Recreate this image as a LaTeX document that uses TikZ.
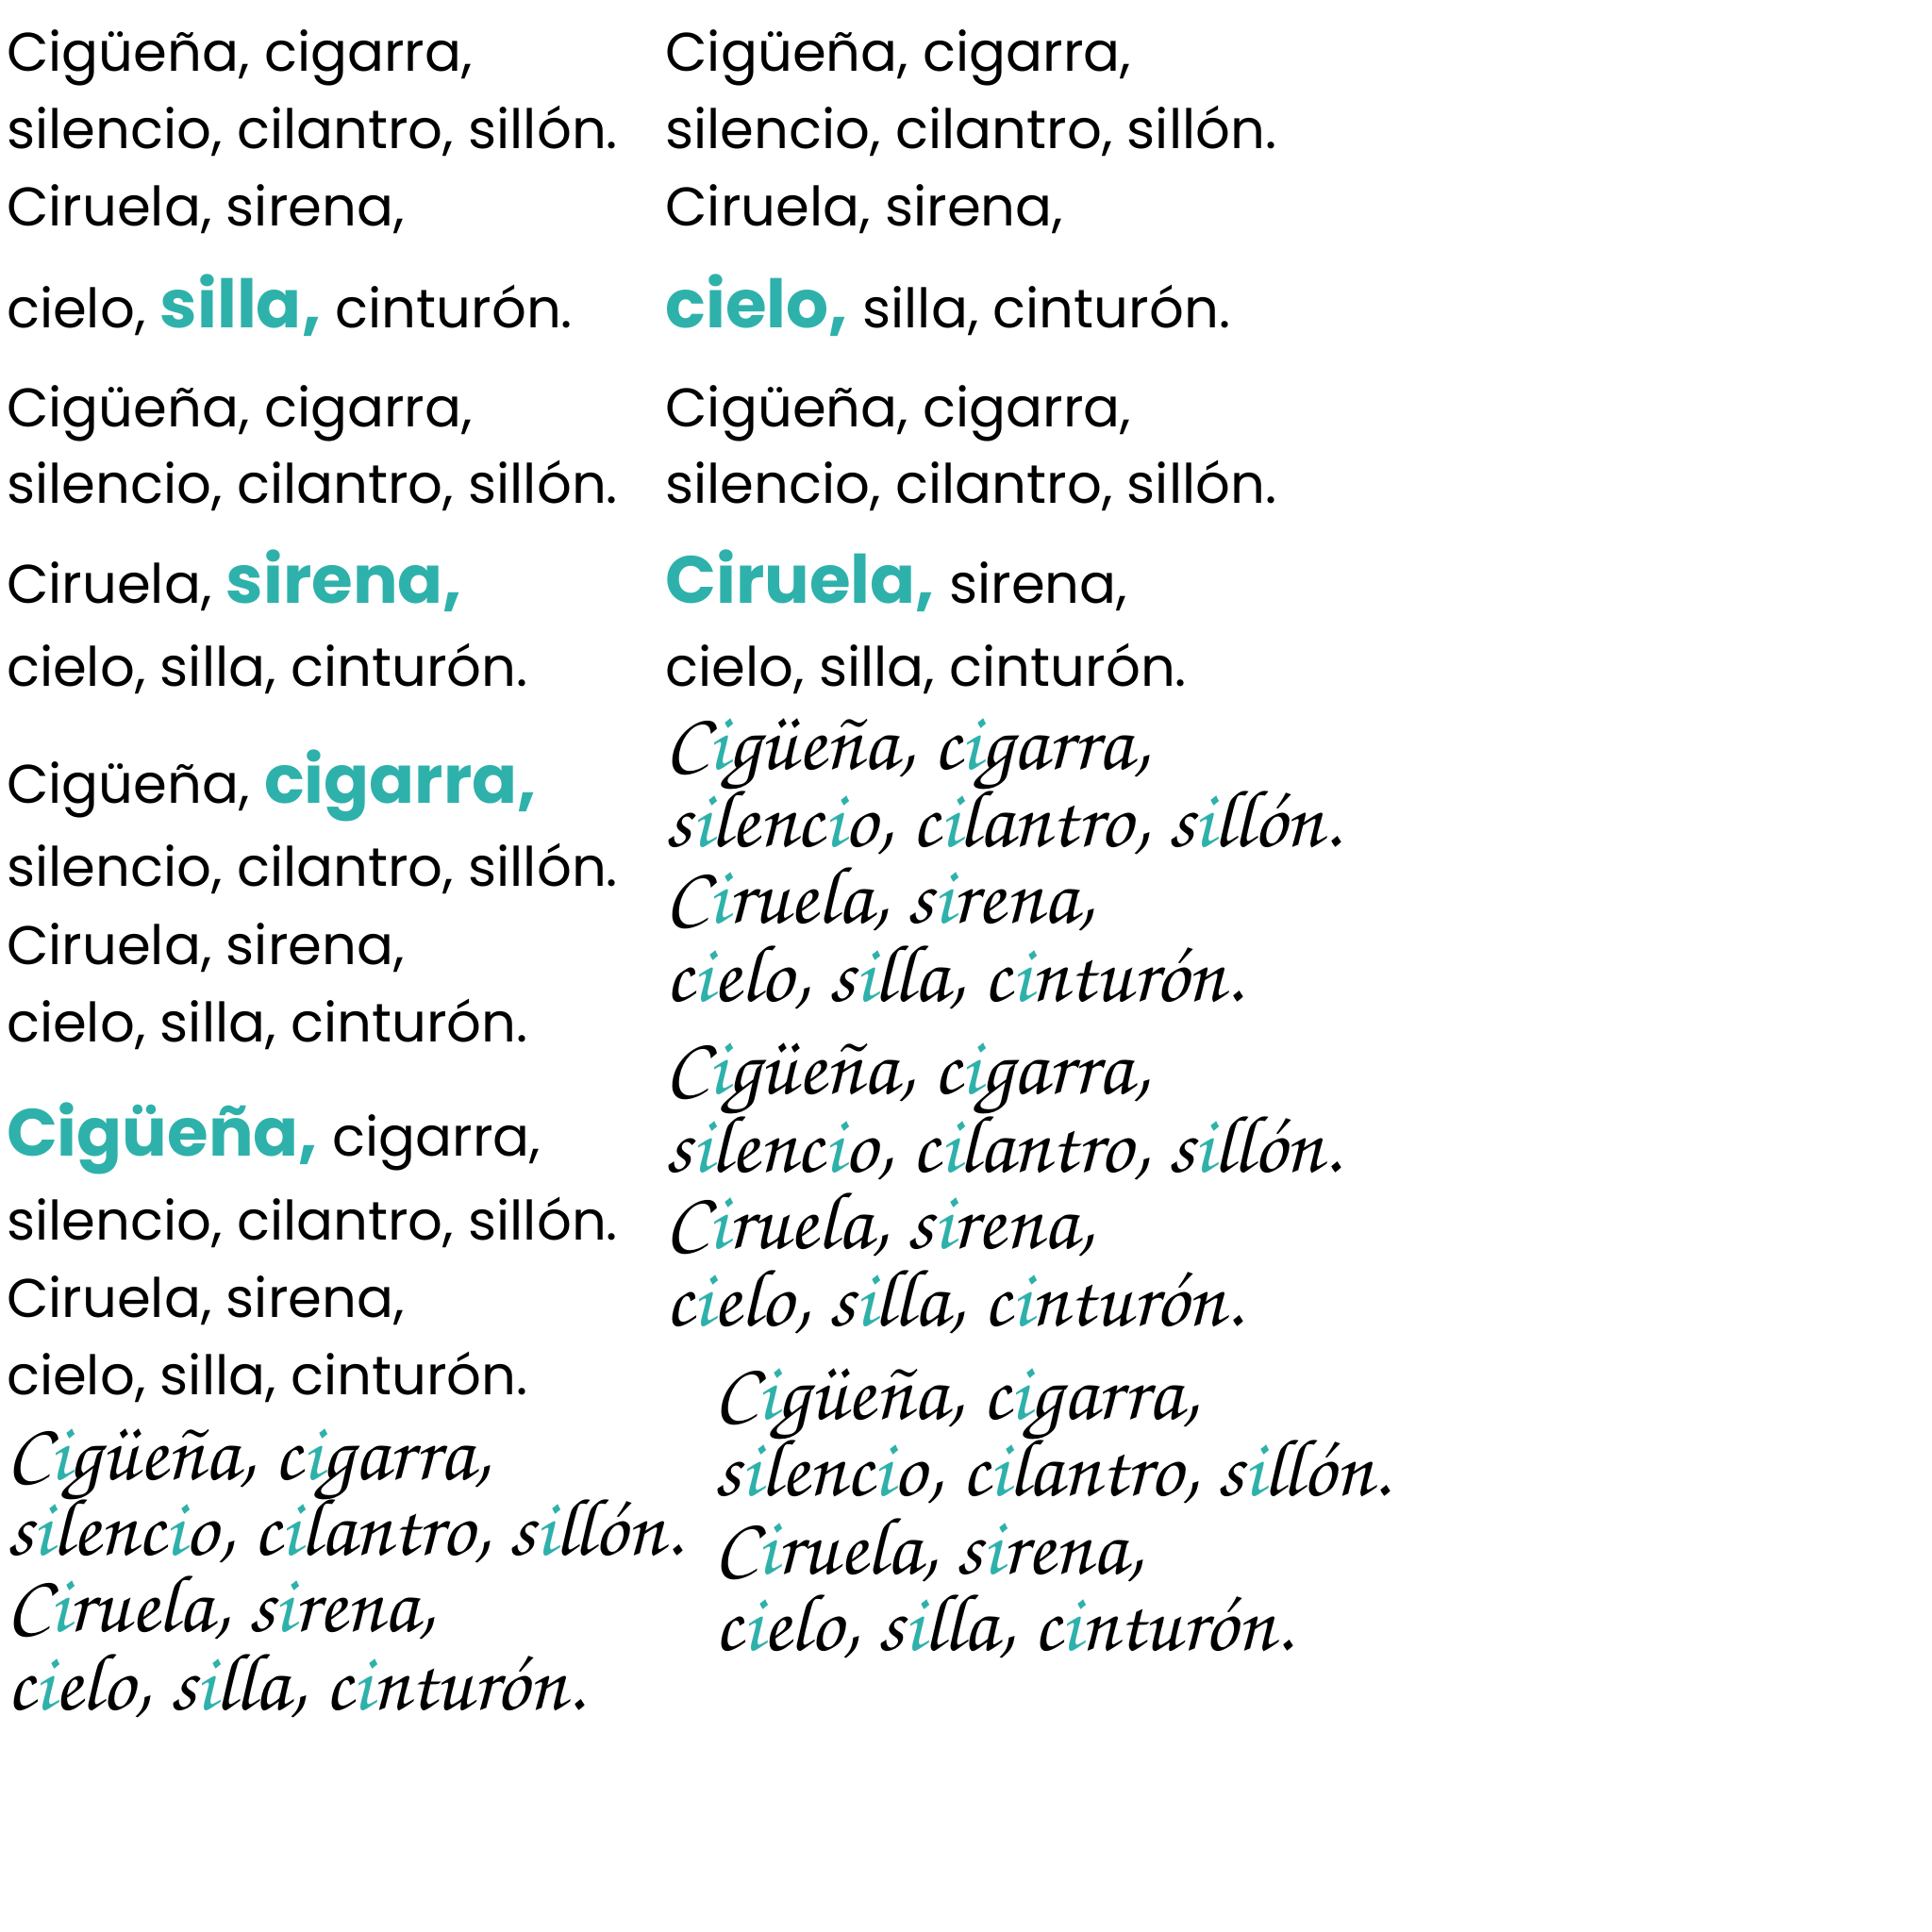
\documentclass[tikz,border=0pt]{standalone}
\usepackage{fontspec}
\setmainfont{Poppins}
\newfontfamily\cursivefont{texgyrechorus-mediumitalic.otf}
\definecolor{tealc}{HTML}{2FB1AB}
\newcommand\tb[1]{{\color{tealc}\fontsize{27}{30}\selectfont\bfseries #1}}
\newcommand\ti{{\color{tealc}i}}
\tikzset{
  ln/.style={anchor=base west, inner sep=0pt, font=\fontsize{22}{24}\selectfont},
  cur/.style={anchor=base west, inner sep=0pt, font=\cursivefont\fontsize{33}{36}\selectfont}
}
\begin{document}
\begin{tikzpicture}[x=0.5pt,y=-0.5pt]
\fill[white] (0,0) rectangle (1563,1563);
\path[use as bounding box] (0,0) rectangle (1563,1563);
% left column
\node[ln] (l1) at (5,58) {Cigüeña, cigarra,};
\node[ln] (l2) at (5,120) {silencio, cilantro, sillón.};
\node[ln] (l3) at (5,183) {Ciruela, sirena,};
\node[ln] (l4) at (5,265) {cielo, \tb{silla,} cinturón.};
\node[ln] (l5) at (5,345) {Cigüeña, cigarra,};
\node[ln] (l6) at (5,407) {silencio, cilantro, sillón.};
\node[ln] (l7) at (5,488) {Ciruela, \tb{sirena,}};
\node[ln] (l8) at (5,555) {cielo, silla, cinturón.};
\node[ln] (l9) at (5,650) {Cigüeña, \tb{cigarra,}};
\node[ln] (l10) at (5,717) {silencio, cilantro, sillón.};
\node[ln] (l11) at (5,780) {Ciruela, sirena,};
\node[ln] (l12) at (5,843) {cielo, silla, cinturón.};
\node[ln] (l13) at (5,935) {\tb{Cigüeña,} cigarra,};
\node[ln] (l14) at (5,1003) {silencio, cilantro, sillón.};
\node[ln] (l15) at (5,1066) {Ciruela, sirena,};
\node[ln] (l16) at (5,1128) {cielo, silla, cinturón.};
\node[cur] (l17) at (5,1197) {C\ti güeña, c\ti garra,};
\node[cur] (l18) at (5,1258) {s\ti lenc\ti o, c\ti lantro, s\ti llón.};
\node[cur] (l19) at (5,1320) {C\ti ruela, s\ti rena,};
\node[cur] (l20) at (5,1383) {c\ti elo, s\ti lla, c\ti nturón.};
% right column
\node[ln] (r1) at (538,58) {Cigüeña, cigarra,};
\node[ln] (r2) at (538,120) {silencio, cilantro, sillón.};
\node[ln] (r3) at (538,183) {Ciruela, sirena,};
\node[ln] (r4) at (538,265) {\tb{cielo,} silla, cinturón.};
\node[ln] (r5) at (538,345) {Cigüeña, cigarra,};
\node[ln] (r6) at (538,407) {silencio, cilantro, sillón.};
\node[ln] (r7) at (538,488) {\tb{Ciruela,} sirena,};
\node[ln] (r8) at (538,555) {cielo, silla, cinturón.};
\node[cur] (r9) at (538,622) {C\ti güeña, c\ti garra,};
\node[cur] (r10) at (538,685) {s\ti lenc\ti o, c\ti lantro, s\ti llón.};
\node[cur] (r11) at (538,747) {C\ti ruela, s\ti rena,};
\node[cur] (r12) at (538,810) {c\ti elo, s\ti lla, c\ti nturón.};
\node[cur] (r13) at (538,885) {C\ti güeña, c\ti garra,};
\node[cur] (r14) at (538,948) {s\ti lenc\ti o, c\ti lantro, s\ti llón.};
\node[cur] (r15) at (538,1010) {C\ti ruela, s\ti rena,};
\node[cur] (r16) at (538,1073) {c\ti elo, s\ti lla, c\ti nturón.};
\node[cur] (r17) at (578,1148) {C\ti güeña, c\ti garra,};
\node[cur] (r18) at (578,1210) {s\ti lenc\ti o, c\ti lantro, s\ti llón.};
\node[cur] (r19) at (578,1273) {C\ti ruela, s\ti rena,};
\node[cur] (r20) at (578,1335) {c\ti elo, s\ti lla, c\ti nturón.};
\end{tikzpicture}
\end{document}
